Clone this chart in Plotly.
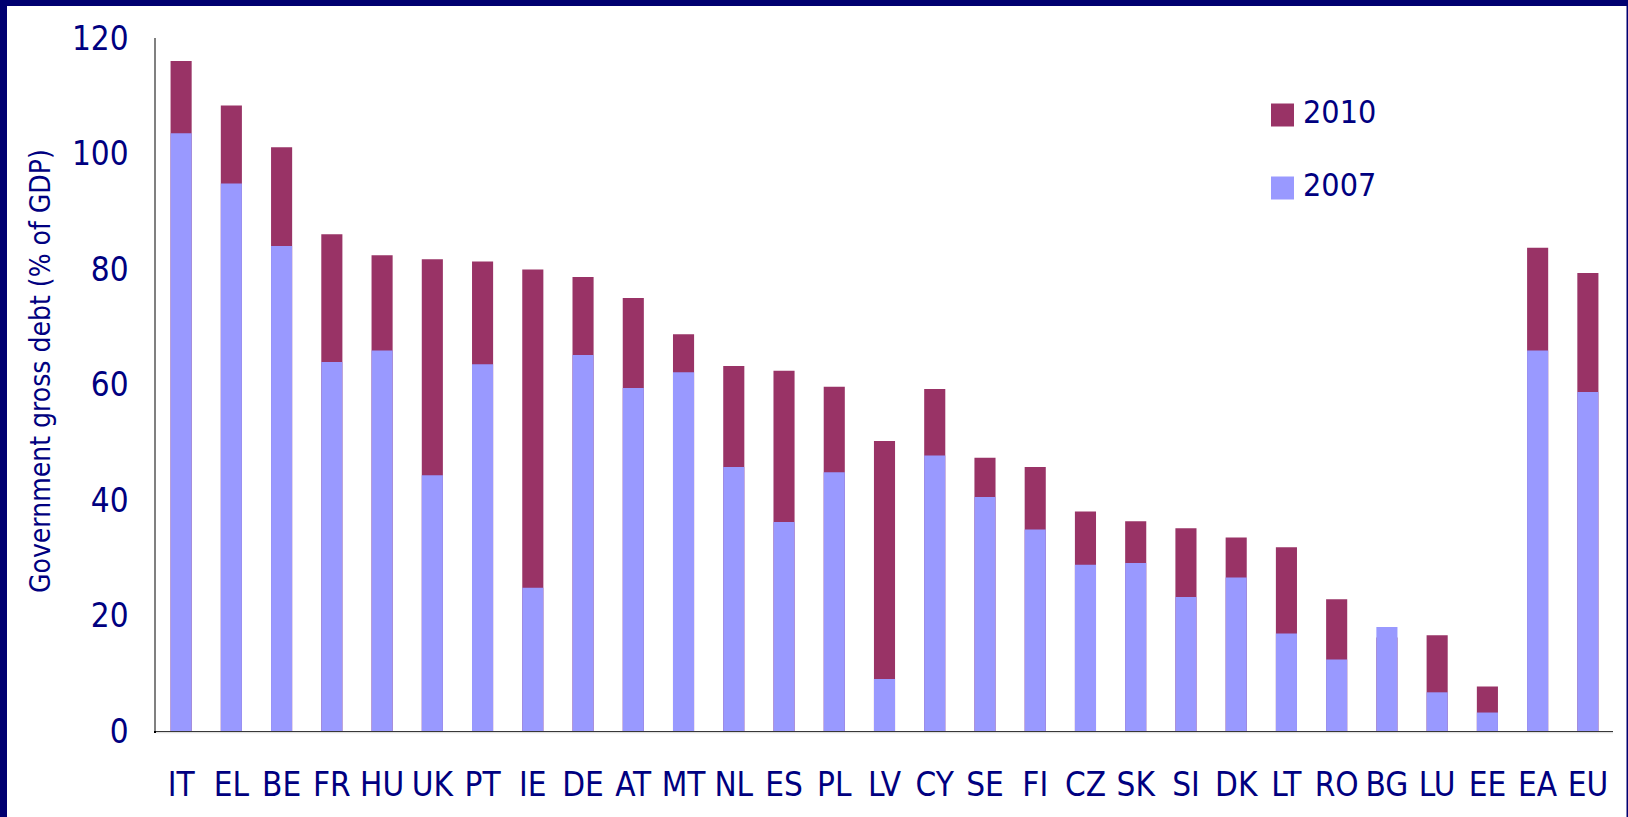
import plotly.graph_objects as go

countries = ["IT", "EL", "BE", "FR", "HU", "UK", "PT", "IE", "DE", "AT", "MT", "NL", "ES", "PL",
             "LV", "CY", "SE", "FI", "CZ", "SK", "SI", "DK", "LT", "RO", "BG", "LU", "EE", "EA", "EU"]
debt_2010 = [116.0, 108.3, 101.1, 86.0, 82.4, 81.7, 81.3, 79.9, 78.6, 75.0, 68.7, 63.2, 62.4, 59.6,
             50.2, 59.2, 47.3, 45.7, 38.0, 36.3, 35.1, 33.5, 31.8, 22.8, 16.2, 16.6, 7.7, 83.7, 79.3]
debt_2007 = [103.5, 94.8, 84.0, 63.9, 65.9, 44.3, 63.5, 24.8, 65.1, 59.4, 62.1, 45.7, 36.2, 44.8,
             9.0, 47.7, 40.5, 34.9, 28.8, 29.1, 23.2, 26.6, 16.9, 12.4, 18.0, 6.7, 3.2, 65.9, 58.7]
y_ticks = [0, 20, 40, 60, 80, 100, 120]

C2010 = "#993366"
C2007 = "#9999FF"
NAVY = "#000080"
FONT = "DejaVu Sans Condensed, Liberation Sans Narrow, sans-serif"

W, H = 1628, 817
L, R, T, B = 156, 15, 38, 86
PW, PH = W - L - R, H - T - B


def px_x(px):
    return (px - L) / PW


def px_y(py):
    return (H - B - py) / PH


fig = go.Figure()
# 2010 drawn behind, 2007 overlaid in front
fig.add_trace(go.Bar(x=countries, y=debt_2010, name="2010", marker_color=C2010,
                     marker_line_width=0, width=0.42, showlegend=False))
fig.add_trace(go.Bar(x=countries, y=debt_2007, name="2007", marker_color=C2007,
                     marker_line_width=0, width=0.42, showlegend=False))

shapes = []
# frame around the page
shapes.append(dict(type="rect", xref="paper", yref="paper", x0=px_x(0), x1=px_x(W), y0=px_y(0), y1=px_y(6),
                   fillcolor="#000070", line_width=0, layer="above"))
shapes.append(dict(type="rect", xref="paper", yref="paper", x0=px_x(0), x1=px_x(7), y0=px_y(0), y1=px_y(H),
                   fillcolor="#000070", line_width=0, layer="above"))
shapes.append(dict(type="rect", xref="paper", yref="paper", x0=px_x(W - 1.5), x1=px_x(W), y0=px_y(0), y1=px_y(H),
                   fillcolor="#000070", line_width=0, layer="above"))
# faint shadow under the category axis
shapes.append(dict(type="line", xref="paper", yref="paper", x0=0, x1=1, y0=px_y(732.5), y1=px_y(732.5),
                   line=dict(color="#e0e0e0", width=1.5)))

annotations = []
# legend swatches and labels
legend_items = [("2010", C2010, 115), ("2007", C2007, 188)]
for label, col, cy in legend_items:
    shapes.append(dict(type="rect", xref="paper", yref="paper", x0=px_x(1271), x1=px_x(1294),
                       y0=px_y(cy - 11.5), y1=px_y(cy + 11.5), fillcolor=col, line_width=0))
    annotations.append(dict(text=label, xref="paper", yref="paper", x=px_x(1301), y=px_y(cy - 3),
                            xanchor="left", yanchor="middle", showarrow=False,
                            font=dict(family=FONT, size=32, color=NAVY)))

# value axis title
annotations.append(dict(text="Government gross debt (% of GDP)", xref="paper", yref="paper",
                        x=px_x(40), y=px_y(371), xanchor="center", yanchor="middle",
                        textangle=-90, showarrow=False,
                        font=dict(family=FONT, size=28, color=NAVY)))

fig.update_layout(
    width=W, height=H,
    margin=dict(l=L, r=R, t=T, b=B, pad=0),
    barmode="overlay",
    plot_bgcolor="white",
    paper_bgcolor="white",
    font=dict(family=FONT, color=NAVY),
    shapes=shapes,
    annotations=annotations,
    xaxis=dict(
        range=[-0.5, len(countries) - 0.5],
        showline=True, linecolor="black", linewidth=1.5,
        showgrid=False, zeroline=False, ticks="",
        tickfont=dict(family=FONT, size=33, color=NAVY),
        ticklabelstandoff=24,
        automargin=False,
        fixedrange=True,
    ),
    yaxis=dict(
        range=[0, 120],
        tickvals=y_ticks,
        showline=True, linecolor="#808080", linewidth=1.5,
        showgrid=False, zeroline=False, ticks="",
        tickfont=dict(family=FONT, size=33, color=NAVY),
        ticklabelstandoff=19,
        automargin=False,
        fixedrange=True,
    ),
)

fig.write_html("out.html", config={"displayModeBar": False})
